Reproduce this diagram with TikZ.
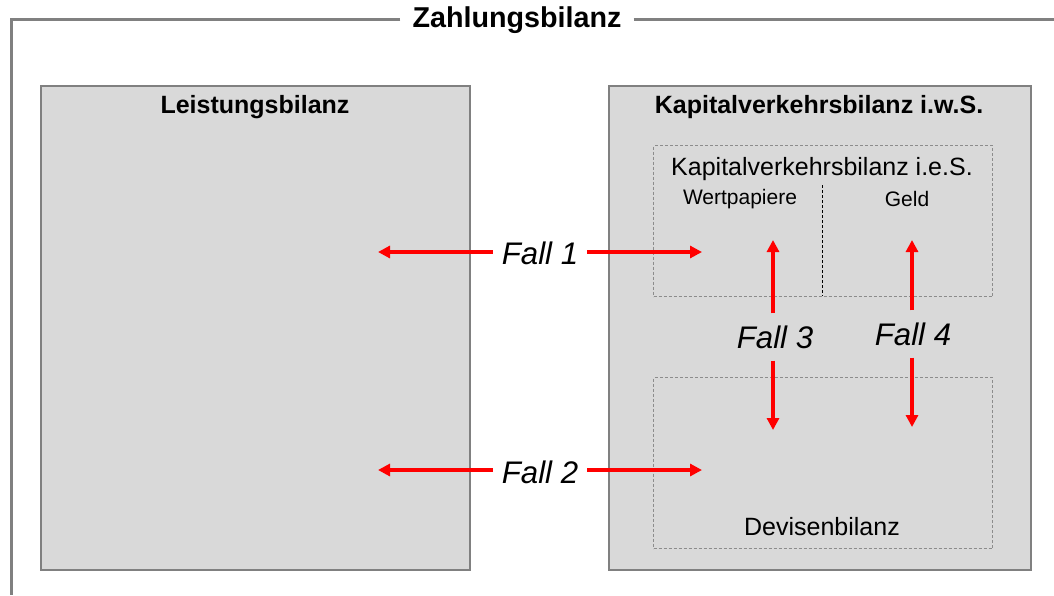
\documentclass[tikz,border=0pt]{standalone}
\usepackage{fontspec}
\setmainfont{Liberation Sans}
\usetikzlibrary{arrows.meta}
\definecolor{panelfill}{HTML}{D9D9D9}
\definecolor{framegray}{HTML}{808080}
\definecolor{dashgray}{HTML}{8C8C8C}
\begin{document}
\begin{tikzpicture}[x=1pt,y=-1pt,
  frame/.style={draw=framegray, line width=3pt},
  panel/.style={draw=framegray, fill=panelfill, line width=1.5pt, anchor=north west, inner sep=0pt},
  subbox/.style={draw=dashgray, line width=1pt, dash pattern=on 3pt off 2pt, anchor=north west, inner sep=0pt},
  titletxt/.style={font=\bfseries\fontsize{28.7}{34}\selectfont, inner sep=0pt},
  boldtxt/.style={font=\bfseries\fontsize{25}{30}\selectfont, inner sep=0pt},
  normtxt/.style={font=\fontsize{25}{30}\selectfont, inner sep=0pt},
  smalltxt/.style={font=\fontsize{21}{25}\selectfont, inner sep=0pt},
  falltxt/.style={font=\itshape\fontsize{31.2}{36}\selectfont, inner xsep=9pt, inner ysep=12pt},
  redarrow/.style={draw=red, line width=4pt, -{Triangle[length=12pt,width=12pt]}},
]
\useasboundingbox (0,0) rectangle (1054,595);
% outer frame
\node[titletxt, inner xsep=12pt] (zb) at (517,20) {Zahlungsbilanz};
\coordinate (ftl) at (11,19);
\coordinate (fbl) at (11,595);
\coordinate (ftr) at (1054,19);
\draw[frame] (zb.west |- ftl) -- (ftl) -- (fbl);
\draw[frame] (zb.east |- ftr) -- (ftr);
% panels
\node[panel, minimum width=429pt, minimum height=484pt] (lb) at (40,85) {};
\node[panel, minimum width=422pt, minimum height=484pt] (kb) at (608,85) {};
\node[boldtxt] (lbt) at (255,107) {Leistungsbilanz};
\node[boldtxt] (kbt) at (819,107) {Kapitalverkehrsbilanz i.w.S.};
% inner boxes
\node[subbox, minimum width=339pt, minimum height=151pt] (kes) at (653,145) {};
\node[subbox, minimum width=339pt, minimum height=171pt] (dev) at (653,377) {};
\coordinate (dvt) at (822,185);
\coordinate (dvb) at (822,296);
\draw[black, line width=0.8pt, dash pattern=on 3pt off 2pt] (dvt) -- (dvb);
\node[normtxt] (kest) at (822,169) {Kapitalverkehrsbilanz i.e.S.};
\node[smalltxt] (wp) at (740,199) {Wertpapiere};
\node[smalltxt] (geld) at (907,199) {Geld};
\node[normtxt] (devt) at (822,527) {Devisenbilanz};
% Fall 1 and 2
\node[falltxt] (f1) at (540,253) {Fall 1};
\node[falltxt] (f2) at (540,472) {Fall 2};
\coordinate (f1l) at (378,252);
\coordinate (f1r) at (702,252);
\coordinate (f2l) at (378,470);
\coordinate (f2r) at (702,470);
\draw[redarrow] (f1.west |- f1l) -- (f1l);
\draw[redarrow] (f1.east |- f1r) -- (f1r);
\draw[redarrow] (f2.west |- f2l) -- (f2l);
\draw[redarrow] (f2.east |- f2r) -- (f2r);
% Fall 3 and 4
\node[falltxt] (f3) at (775,337) {Fall 3};
\node[falltxt] (f4) at (913,334) {Fall 4};
\coordinate (f3t) at (773,240);
\coordinate (f3b) at (773,430);
\coordinate (f4t) at (912,240);
\coordinate (f4b) at (912,427);
\draw[redarrow] (f3.north -| f3t) -- (f3t);
\draw[redarrow] (f3.south -| f3b) -- (f3b);
\draw[redarrow] (f4.north -| f4t) -- (f4t);
\draw[redarrow] (f4.south -| f4b) -- (f4b);
\end{tikzpicture}
\end{document}
